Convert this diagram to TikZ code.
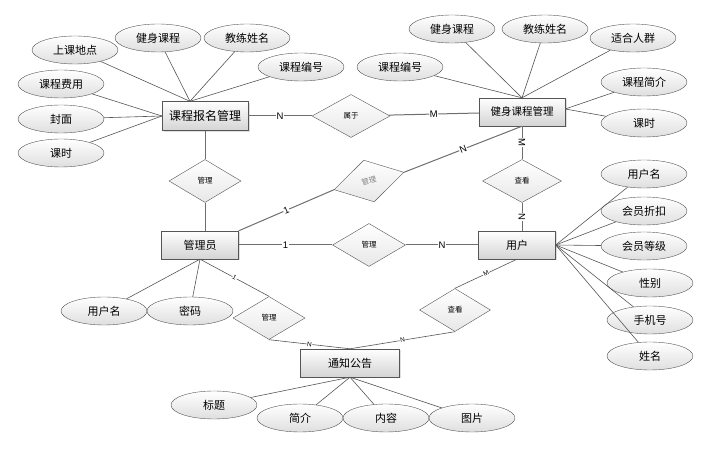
\documentclass[tikz,border=0pt]{standalone}
\usepackage{fontspec}
\setmainfont{Liberation Sans}
\newfontfamily\cjk{Noto Sans CJK SC}
\definecolor{erline}{RGB}{85,85,85}
\definecolor{erfill}{RGB}{212,212,212}
\definecolor{ergray}{RGB}{130,130,130}
\usetikzlibrary{shapes.geometric,shadows,calc}

\begin{document}
\begin{tikzpicture}[
  x=1pt, y=-1pt,
  every node/.style={font=\cjk\fontsize{11}{13}\selectfont},
  entity/.style={draw=erline,rectangle,top color=white,bottom color=erfill,
                 minimum width=77pt,minimum height=28pt,inner sep=0pt,
                 drop shadow={opacity=0.25,shadow xshift=1.5pt,shadow yshift=-1.5pt}},
  attr/.style={draw=erline,ellipse,top color=white,bottom color=erfill!75,
               minimum width=86pt,minimum height=28pt,inner sep=0pt},
  rel/.style={draw=erline,diamond,top color=white,bottom color=erfill!55,
              minimum width=72pt,minimum height=43pt,inner sep=0pt,
              font=\cjk\fontsize{7.5}{8}\selectfont},
  link/.style={draw=erline!85,line width=1pt},
  aline/.style={draw=erline,line width=0.6pt},
  card/.style={fill=white,inner sep=0.5pt,sloped,font=\fontsize{9.5}{10}\selectfont},
  smallcard/.style={card,font=\fontsize{6.5}{7}\selectfont},
]
  \useasboundingbox (0,0) rectangle (724,454);

  % Entities
  \node[entity,minimum width=86pt,minimum height=29pt,font=\cjk\fontsize{12}{14}\selectfont]
    (kcbm) at (205,116) {课程报名管理};
  \node[entity,minimum width=86pt,font=\cjk\fontsize{10.5}{12}\selectfont]
    (jskc) at (522,112) {健身课程管理};
  \node[entity] (gly) at (200,245) {管理员};
  \node[entity] (yh) at (517,245) {用户};
  \node[entity,minimum width=99pt] (tzgg) at (350,363) {通知公告};

  % Relationships
  \node[rel,minimum width=78pt] (sy) at (351,116) {属于};
  \node[rel] (gl1) at (205,181) {管理};
  \node[rel,rotate=14,text=ergray] (gl2) at (369,181) {管理};
  \node[rel,minimum width=79pt] (ck1) at (522,181) {查看};
  \node[rel,minimum width=73pt] (gl3) at (369,245) {管理};
  \node[rel] (gl4) at (269,318) {管理};
  \node[rel,minimum width=71pt] (ck2) at (455,310) {查看};

  % Attributes of 课程报名管理
  \node[attr] (kcA1) at (75,50) {上课地点};
  \node[attr] (kcA2) at (158,38) {健身课程};
  \node[attr] (kcA3) at (247,38) {教练姓名};
  \node[attr] (kcA4) at (301,67) {课程编号};
  \node[attr] (kcA5) at (61,84) {课程费用};
  \node[attr] (kcA6) at (61,119) {封面};
  \node[attr] (kcA7) at (61,153) {课时};
  \coordinate (kcTop) at ($(kcbm.north)+(-15,0)$);
  \foreach \i in {1,2,3,4} \draw[aline] (kcTop) -- (kcA\i);
  \foreach \i in {5,6,7} \draw[aline] (kcbm.west) -- (kcA\i);

  % Attributes of 健身课程管理
  \node[attr] (jsA1) at (452,29) {健身课程};
  \node[attr] (jsA2) at (545,29) {教练姓名};
  \node[attr] (jsA3) at (633,38) {适合人群};
  \node[attr] (jsA4) at (400,67) {课程编号};
  \node[attr] (jsA5) at (644,82) {课程简介};
  \node[attr] (jsA6) at (644,123) {课时};
  \foreach \i in {1,2,3,4} \draw[aline] (jskc.north) -- (jsA\i);
  \foreach \i in {5,6} \draw[aline] ($(jskc.east)+(0,-3)$) -- (jsA\i);

  % Attributes of 用户
  \node[attr] (yhA1) at (644,174) {用户名};
  \node[attr] (yhA2) at (644,211) {会员折扣};
  \node[attr] (yhA3) at (644,246) {会员等级};
  \node[attr] (yhA4) at (650,283) {性别};
  \node[attr] (yhA5) at (650,320) {手机号};
  \node[attr] (yhA6) at (650,356) {姓名};
  \foreach \i in {1,...,6} \draw[aline] (yh.east) -- (yhA\i);

  % Attributes of 管理员
  \node[attr] (glyA1) at (104,311) {用户名};
  \node[attr] (glyA2) at (190,311) {密码};
  \foreach \i in {1,2} \draw[aline] (gly.south) -- (glyA\i);

  % Attributes of 通知公告
  \node[attr] (tzA1) at (214,405) {标题};
  \node[attr] (tzA2) at (300,418) {简介};
  \node[attr] (tzA3) at (386,418) {内容};
  \node[attr] (tzA4) at (472,418) {图片};
  \foreach \i in {1,...,4} \draw[aline] (tzgg.south) -- (tzA\i);

  % Links
  \draw[link] (kcbm) -- node[card]{N} (sy);
  \draw[link] (sy) -- node[card]{M} (jskc);
  \draw[link] (kcbm) -- (gl1);
  \draw[link] (gl1.south) -- (gl1.south |- gly.north);
  \draw[link] (gly.north east) -- node[card]{1} (gl2.west);
  \draw[link] (gl2.east) -- node[card]{N} (jskc.south);
  \draw[link] (jskc) -- node[card]{M} (ck1);
  \draw[link] (ck1.south) -- node[card]{N} (ck1.south |- yh.north);
  \draw[link] (gly) -- node[card]{1} (gl3);
  \draw[link] (gl3) -- node[card]{N} (yh);
  \draw[aline] (gly.south) -- node[smallcard]{1} (gl4.north);
  \draw[aline] (gl4.south) -- node[smallcard]{N} (tzgg.north);
  \draw[aline] (yh.south) -- node[smallcard]{M} (ck2.north);
  \draw[aline] (ck2.south) -- node[smallcard]{N} (tzgg.north);
\end{tikzpicture}
\end{document}
